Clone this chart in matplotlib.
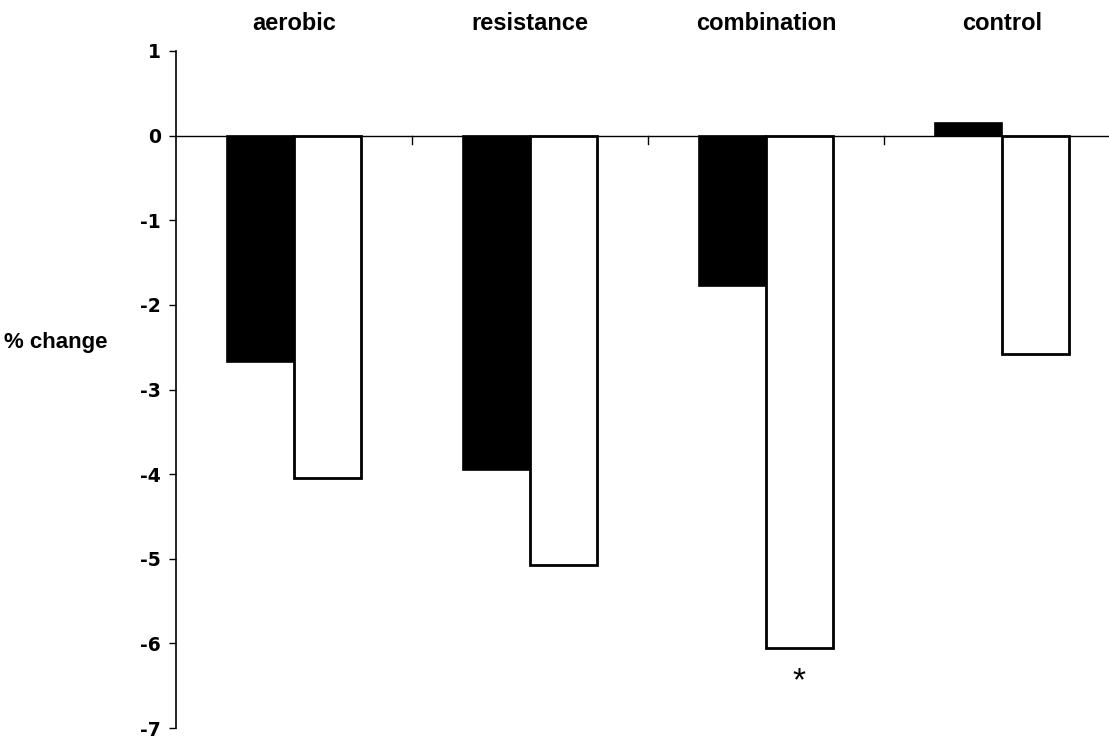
import matplotlib
matplotlib.use("Agg")
import matplotlib.pyplot as plt
import numpy as np

plt.rcParams['font.family'] = ['Liberation Sans', 'DejaVu Sans']

categories = ["aerobic", "resistance", "combination", "control"]
black_vals = [-2.67, -3.95, -1.78, 0.15]
white_vals = [-4.05, -5.07, -6.05, -2.58]
y_ticks = [1, 0, -1, -2, -3, -4, -5, -6, -7]

fig = plt.figure(figsize=(11.09, 7.40), dpi=100)
ax = fig.add_axes([176/1109, 12/740, (1120-176)/1109, (728-51)/740])

x = np.arange(len(categories))
w = 0.283
ax.bar(x - w/2, black_vals, width=w, color='black', edgecolor='black', linewidth=1.2)
ax.bar(x + w/2, white_vals, width=w, color='white', edgecolor='black', linewidth=2)

ax.set_xlim(-0.5, 3.5)
ax.set_ylim(-7, 1)
ax.axhline(0, color='black', linewidth=1, zorder=0.5, clip_on=False)

for s in ['top', 'right', 'bottom']:
    ax.spines[s].set_visible(False)
ax.spines['left'].set_linewidth(1.2)

ax.set_yticks(y_ticks)
ax.set_yticklabels([str(v) for v in y_ticks], fontsize=13.5, fontweight='bold',
                   family=['DejaVu Sans'])
ax.tick_params(axis='y', direction='out', length=5, width=1, pad=6)
ax.set_xticks([])

# small tick marks between groups on the zero line
for b in [0.5, 1.5, 2.5]:
    ax.plot([b, b], [0, -0.1], color='black', linewidth=1)

for i, c in enumerate(categories):
    ax.text(i, 1.33, c, ha='center', va='center',
            fontsize=17, fontweight='bold', clip_on=False)

ax.text(-0.5 - 0.292, -2.45, "% change", ha='right', va='center', fontsize=16,
        fontweight='bold', clip_on=False)

ax.text(2 + w/2, -6.45, "*", ha='center', va='center', fontsize=24)

fig.savefig("out.png", dpi=100)
